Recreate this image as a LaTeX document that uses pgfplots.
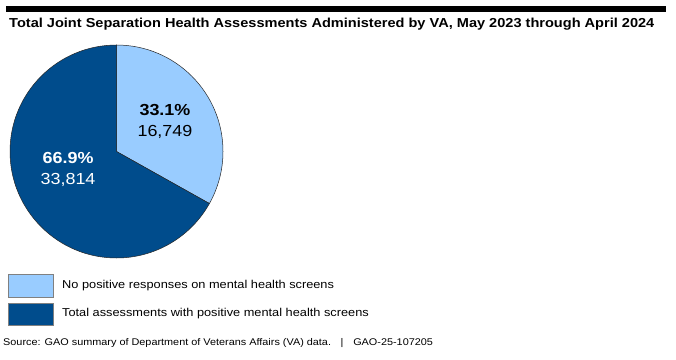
\documentclass[border=0pt]{standalone}
\usepackage{pgfplots}
\pgfplotsset{compat=1.18}
\usepackage{fontspec}
\setmainfont[FakeStretch=1.12]{Liberation Sans}
\definecolor{lightb}{HTML}{99CCFF}
\definecolor{darkb}{HTML}{004C8C}
\begin{document}
\begin{tikzpicture}[x=1pt,y=1pt]
\path[use as bounding box] (0,0) rectangle (676,359);
\fill[black] (6,347) rectangle (666,353);
\node[anchor=base west, inner sep=0, font=\fontsize{13}{15}\selectfont\bfseries] at (9,331.3) {Total Joint Separation Health Assessments Administered by VA, May 2023 through April 2024};
% data
\def\vA{16749}
\def\vB{33814}
\edef\angA{\fpeval{360*\vA/(\vA+\vB)}}
\edef\endA{\fpeval{90-\angA}}
\edef\endB{\fpeval{450-\angA}}
\begin{axis}[at={(116.5pt,207.5pt)}, anchor=origin, scale only axis, width=213pt, height=213pt,
  xmin=-1, xmax=1, ymin=-1, ymax=1, hide axis, clip=false]
\fill[lightb, draw=black!85, line width=0.5pt] (axis cs:0,0) -- (axis cs:0,1) arc[start angle=90, end angle=\endA, radius=106.5pt] -- cycle;
\fill[darkb, draw=black!85, line width=0.5pt] (axis cs:0,0) -- (axis cs:0,1) arc[start angle=90, end angle=\endB, radius=106.5pt] -- cycle;
\node[align=center, text=black, font=\fontsize{16}{21}\selectfont, inner sep=0] at (axis cs:0.455,0.285) {\textbf{33.1\%}\\16,749};
\node[align=center, text=white, font=\fontsize{16}{21}\selectfont, inner sep=0] at (axis cs:-0.455,-0.172) {\textbf{66.9\%}\\33,814};
\end{axis}
% legend
\draw[fill=lightb, draw=gray, line width=0.6pt] (8,62) rectangle (53,85);
\draw[fill=darkb, draw=gray, line width=0.6pt] (8,34) rectangle (53,56);
\node[anchor=west, inner sep=0, font=\fontsize{11.4}{13}\selectfont] at (62,73.5) {No positive responses on mental health screens};
\node[anchor=west, inner sep=0, font=\fontsize{11.4}{13}\selectfont] at (62,45) {Total assessments with positive mental health screens};
\node[anchor=west, inner sep=0, font=\fontsize{9.7}{11}\selectfont] at (3,15.5) {Source: GAO summary of Department of Veterans Affairs (VA) data.\quad|\quad GAO-25-107205};
\end{tikzpicture}
\end{document}
